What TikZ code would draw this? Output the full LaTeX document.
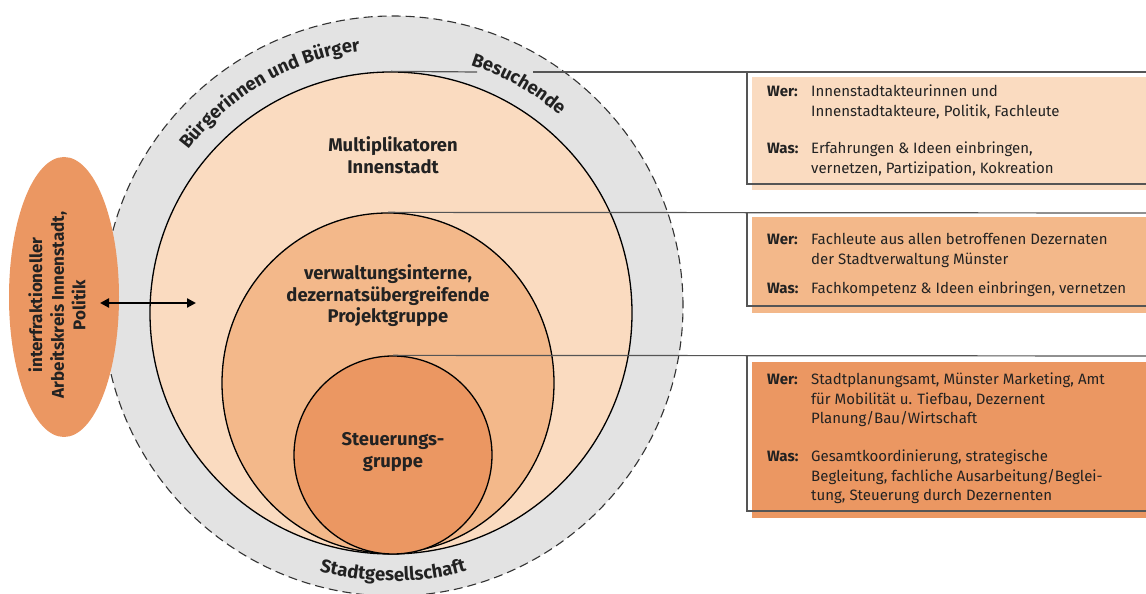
\documentclass[tikz,border=0pt]{standalone}
\usepackage{fontspec}
\setmainfont{Fira Sans}
\usetikzlibrary{arrows.meta,decorations.text,calc,shapes.geometric}
\definecolor{ring}{HTML}{E3E3E3}
\definecolor{cA}{HTML}{FADBC0}
\definecolor{cB}{HTML}{F3B88A}
\definecolor{cC}{HTML}{EB9762}
\definecolor{txt}{HTML}{222222}
\definecolor{lead}{HTML}{555555}
\newcommand\curvefont{\bfseries\fontsize{18.5}{22}\selectfont}
\newcommand\lblfont{\bfseries\fontsize{18.4}{21.5}\selectfont}
\newcommand\ellfont{\bfseries\fontsize{17}{21.5}\selectfont}
\newcommand\boxfont{\fontsize{15}{19.5}\selectfont}
\newcommand\infotext[1]{\parbox[t]{335pt}{\raggedright\boxfont #1}}
\begin{document}
\begin{tikzpicture}[x=1pt,y=1pt,
  shapeline/.style={draw=black, line width=1.3pt},
  lbl/.style={font=\lblfont, text=txt, align=center, inner sep=0pt},
  leader/.style={draw=lead, line width=1.2pt},
  boxfill/.style={draw=none, inner sep=0pt, anchor=north west, minimum width=394pt},
  wer/.style={font=\boxfont\bfseries, text=txt, anchor=base west, inner sep=0pt},
  info/.style={text=txt, anchor=base west, inner sep=0pt},
  curved/.style={decorate, decoration={text along path, text align=center, text={|\curvefont\color{txt}|#1}}},
]
\useasboundingbox[fill=white] (0,0) rectangle (1146,594);

% box fills
\node[boxfill, fill=cA, minimum height=113pt] (f1) at (752,517) {};
\node[boxfill, fill=cB, minimum height=96pt] (f2) at (752,377) {};
\node[boxfill, fill=cC, minimum height=156pt] (f3) at (752,232) {};

% circles
\node[circle, fill=ring, draw=black!80, line width=1.1pt, dash pattern=on 9pt off 5pt, minimum size=580pt, inner sep=0pt] (outer) at (393,288) {};
\node[circle, fill=cA, shapeline, minimum size=482pt, inner sep=0pt] (mult) at (391,281) {};
\node[ellipse, fill=cB, shapeline, minimum width=332pt, minimum height=340pt, inner sep=0pt] (proj) at (388,211) {};
\node[circle, fill=cC, shapeline, minimum size=198pt, inner sep=0pt] (steu) at (393,139) {};

% leader lines and box frames
\coordinate (g1a) at (477,522);
\coordinate (g1b) at (533,522);
\coordinate (b1tl) at (747,522);
\coordinate (b1tr) at (1146,522);
\coordinate (b1bl) at (747,410);
\coordinate (b1br) at (1146,410);
\coordinate (b2tl) at (747,381);
\coordinate (b2tr) at (1146,381);
\coordinate (b2bl) at (747,288);
\coordinate (b2br) at (1146,288);
\coordinate (b3tl) at (747,238);
\coordinate (b3tr) at (1146,238);
\coordinate (b3bl) at (747,83);
\coordinate (b3br) at (1146,83);
\draw[leader] (mult.north) -- (g1a);
\draw[leader] (g1b) -- (b1tr);
\draw[leader] (b1tl) -- (b1bl) -- (b1br);
\draw[leader] (proj.north) -- (b2tr);
\draw[leader] (b2tl) -- (b2bl) -- (b2br);
\draw[leader] (steu.north) -- (b3tr);
\draw[leader] (b3tl) -- (b3bl) -- (b3br);

% left ellipse and arrow
\node[ellipse, fill=cC, minimum width=110pt, minimum height=280pt, inner sep=0pt] (akis) at (64,297) {};
\coordinate (arrL) at (100,291);
\coordinate (arrR) at (196,291);
\draw[line width=2.2pt, {Triangle[length=9pt,width=9pt]}-{Triangle[length=9pt,width=9pt]}] (arrL) -- (arrR);

% labels
\node[lbl] (lm) at (393,439) {Multiplikatoren\\Innenstadt};
\node[lbl] (lp) at (388,298) {verwaltungsinterne,\\dezernatsübergreifende\\Projektgruppe};
\node[lbl] (ls) at (393,142) {Steuerungs-\\gruppe};
\node[lbl, font=\ellfont, rotate=90] (la) at (57,289) {interfraktioneller\\Arbeitskreis Innenstadt,\\Politik};

% curved texts
\path[curved={Bürgerinnen und Bürger}] ($(outer.center)+(165:257pt)$) arc[start angle=165, end angle=75, radius=257pt];
\path[curved={Besuchende}] ($(outer.center)+(88:253pt)$) arc[start angle=88, end angle=33, radius=253pt];
\path[curved={Stadtgesellschaft}] ($(outer.center)+(230:275pt)$) arc[start angle=230, end angle=310, radius=275pt];

% box texts
\node[wer] (w1) at (767,497) {Wer:};
\node[info] (t1) at (811,497) {\infotext{Innenstadtakteurinnen und\\Innenstadtakteure, Politik, Fachleute}};
\node[wer] (w1b) at (767,440) {Was:};
\node[info] (t1b) at (811,440) {\infotext{Erfahrungen \& Ideen einbringen,\\vernetzen, Partizipation, Kokreation}};
\node[wer] (w2) at (767,349) {Wer:};
\node[info] (t2) at (811,349) {\infotext{Fachleute aus allen betroffenen Dezernaten\\der Stadtverwaltung Münster}};
\node[wer] (w2b) at (767,300) {Was:};
\node[info] (t2b) at (811,300) {\infotext{Fachkompetenz \& Ideen einbringen, vernetzen}};
\node[wer] (w3) at (767,209) {Wer:};
\node[info] (t3) at (811,209) {\infotext{Stadtplanungsamt, Münster Marketing, Amt\\für Mobilität u. Tiefbau, Dezernent\\Planung/Bau/Wirtschaft}};
\node[wer] (w3b) at (767,132) {Was:};
\node[info] (t3b) at (811,132) {\infotext{Gesamtkoordinierung, strategische\\Begleitung, fachliche Ausarbeitung/Beglei-\\tung, Steuerung durch Dezernenten}};
\end{tikzpicture}
\end{document}
